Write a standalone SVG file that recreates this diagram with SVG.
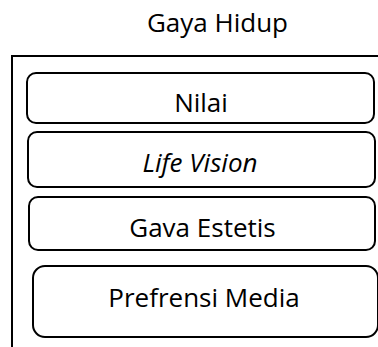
<svg xmlns="http://www.w3.org/2000/svg" width="378" height="347" viewBox="0 0 378 347">
<style>
text{font-family:"Open Sans","Noto Sans",sans-serif;fill:#000;text-anchor:middle;font-size:26px;font-weight:500}
.box{fill:#fff;stroke:#000;stroke-width:2}
.frame{fill:none;stroke:#000;stroke-width:2}
</style>
<rect width="378" height="347" fill="#fff"/>
<g id="title"><text x="217.5" y="32">Gaya Hidup</text></g>
<g id="container"><path class="frame" d="M12 347 V56 H380"/></g>
<g id="nilai"><rect class="box" x="27" y="73" width="347" height="50" rx="9"/><text x="201" y="112">Nilai</text></g>
<g id="life-vision"><rect class="box" x="28" y="132" width="347" height="55" rx="9"/><text x="200" y="172" font-style="italic">Life Vision</text></g>
<g id="gaya-estetis"><rect class="box" x="29" y="197" width="346" height="53" rx="9"/><text x="202.5" y="237">Gava Estetis</text></g>
<g id="prefrensi-media"><rect class="box" x="33" y="266" width="345" height="71" rx="12"/><text x="204" y="307">Prefrensi Media</text></g>
<g id="connectors"/>
</svg>
